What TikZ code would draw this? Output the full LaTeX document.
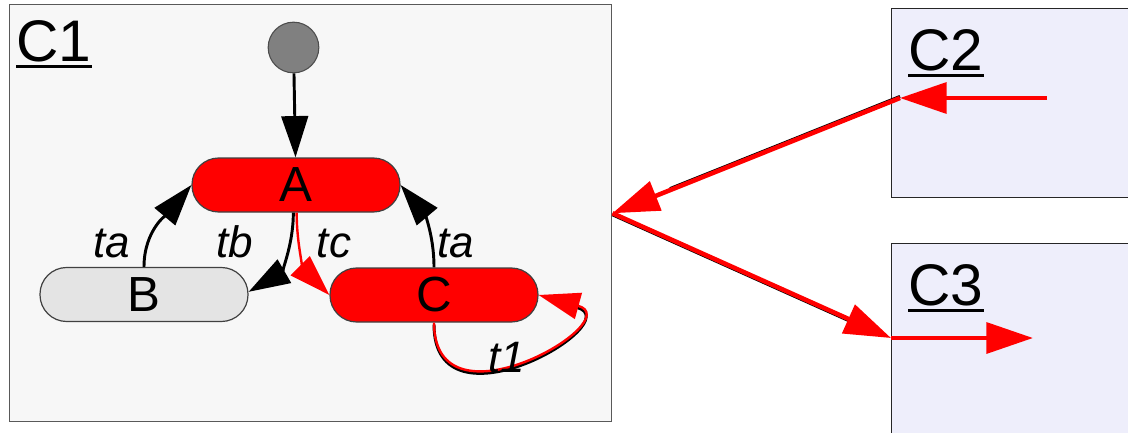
\documentclass[tikz,border=0pt]{standalone}
\usepackage{fontspec}
\setmainfont{Liberation Sans}
\usetikzlibrary{arrows.meta,calc}
\definecolor{frameCone}{HTML}{F7F7F7}
\definecolor{frameCtwo}{HTML}{EEEEFB}
\definecolor{stateB}{HTML}{E4E4E4}
\definecolor{redS}{HTML}{FF0000}
\begin{document}
\begin{tikzpicture}[x=0.75pt,y=-0.75pt,
  state/.style={draw=black!75, line width=0.9pt, rounded corners=20pt,
    minimum width=156pt, minimum height=40.5pt, inner sep=0pt,
    font=\fontsize{37}{37}\selectfont},
  lbl/.style={font=\fontsize{33}{33}\selectfont\itshape, inner sep=0pt, anchor=base},
  ttl/.style={font=\fontsize{44}{44}\selectfont, inner sep=0pt, anchor=base west},
  frm/.style={line width=0.8pt, inner sep=0pt, anchor=north west},
  tr/.style={line width=2.2pt, -{Triangle[length=31pt,width=20pt]}},
  redtr/.style={draw=redS, line width=1.8pt, -{Triangle[length=31pt,width=20pt]}},
  bigred/.style={draw=redS, line width=3.4pt, -{Triangle[length=35pt,width=23pt]}},
  shad/.style={draw=black, line width=2.2pt},
]
\useasboundingbox (0,0) rectangle (1128,432);
\clip (0,0) rectangle (1128,432);
\fill[white] (0,0) rectangle (1128,432);

% frames
\node[frm, draw=black!65, line width=1.1pt, fill=frameCone, minimum width=451.5pt, minimum height=312.75pt] (c1) at (9,4) {};
\node[frm, draw=black!85, fill=frameCtwo, minimum width=190pt, minimum height=141.75pt] (c2) at (891,8) {};
\node[frm, draw=black!85, fill=frameCtwo, minimum width=190pt, minimum height=150pt] (c3) at (891,243) {};

% titles
\node[ttl] (c1t) at (16,61) {C1};
\node[ttl] (c2t) at (908,70) {C2};
\node[ttl] (c3t) at (908,305) {C3};
\foreach \t in {c1t,c2t,c3t}
  \draw[line width=2.3pt] ([yshift=-4pt]\t.base west) -- ([yshift=-4pt]\t.base east);

% states
\node[circle, draw=black!70, line width=0.8pt, fill=black!50, minimum size=38pt, inner sep=0pt] (s) at (293.5,47.5) {};
\node[state, fill=redS] (A) at (296,185) {A};
\node[state, fill=stateB] (B) at (144,294.5) {B};
\node[state, fill=redS] (C) at (434,295) {C};

% transitions
\draw[tr] (s) -- (A);
\draw[tr] (B.north) to[out=90,in=-130] (A.west);
\draw[tr] ([xshift=-2pt]A.south) to[out=-90,in=30] ([yshift=2pt]B.east);
\draw[redtr] ([xshift=0.5pt]A.south) to[out=-90,in=135] (C.west);
\draw[tr] (C.north) to[out=90,in=-50] (A.east);
\draw[shad, shorten >=30pt, transform canvas={yshift=-1.5pt}] (C.south) .. controls (434,435) and (630,320) .. (C.east);
\draw[redtr] (C.south) .. controls (434,435) and (630,320) .. (C.east);

\node[lbl] (la) at (112,257) {ta};
\node[lbl] (lb) at (235,257) {tb};
\node[lbl] (lc) at (334,257) {tc};
\node[lbl] (ld) at (456,257) {ta};
\node[lbl] (le) at (507,372) {t1};

% ports
\coordinate (c2src) at (1047,98);
\coordinate (c2in) at (900,98);
\coordinate (c3in) at (891,338);
\coordinate (c3out) at (1033,338);

\draw[shad, transform canvas={yshift=1.2pt}] (c2in) -- ($(c2in)!0.8!(c1.east)$);
\draw[bigred] (c2src) -- (c2in);
\draw[bigred] (c2in) -- (c1.east);
\draw[shad, transform canvas={yshift=-1.2pt}] (c1.east) -- ($(c1.east)!0.85!(c3in)$);
\draw[bigred] (c1.east) -- (c3in);
\draw[bigred] (c3in) -- (c3out);
\end{tikzpicture}
\end{document}
